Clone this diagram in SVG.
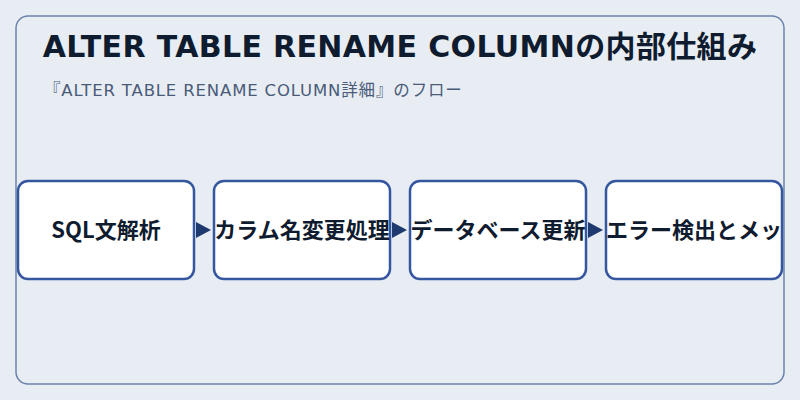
<svg xmlns="http://www.w3.org/2000/svg" width="800" height="400" viewBox="0 0 800 400">
<defs>
<style>
.title{font-family:"DejaVu Sans","Noto Sans CJK JP",sans-serif;font-weight:700;font-size:30px;letter-spacing:0.35px;fill:#0f1b2e}
.sub{font-family:"DejaVu Sans","Noto Sans CJK JP",sans-serif;font-size:16.5px;letter-spacing:0.85px;fill:#4a5b7a}
.box{fill:#ffffff;stroke:#3557a0;stroke-width:2.5}
.lbl{font-family:"Noto Sans CJK JP","Noto Sans",sans-serif;font-weight:700;font-size:22px;fill:#0f1b2e;text-anchor:middle}
</style>
</defs>
<rect width="800" height="400" fill="#e8edf3"/>
<rect x="16" y="16" width="768" height="368" rx="12" fill="#e8edf3" stroke="#6b82ad" stroke-width="1.5"/>
<text class="title" x="400" y="57" text-anchor="middle">ALTER TABLE RENAME COLUMNの内部仕組み</text>
<text class="sub" x="44" y="96">『ALTER TABLE RENAME COLUMN詳細』のフロー</text>
<g id="connectors">
<polygon points="196,222 211,230 196,238" fill="#1e3a6e"/>
<polygon points="392,222 407,230 392,238" fill="#1e3a6e"/>
<polygon points="588,222 603,230 588,238" fill="#1e3a6e"/>
</g>
<g id="node1"><rect class="box" x="18" y="181" width="176" height="98" rx="10"/><text class="lbl" x="106" y="238">SQL文解析</text></g>
<g id="node2"><rect class="box" x="214" y="181" width="176" height="98" rx="10"/><text class="lbl" x="302" y="238">カラム名変更処理</text></g>
<g id="node3"><rect class="box" x="410" y="181" width="176" height="98" rx="10"/><text class="lbl" x="498" y="238">データベース更新</text></g>
<g id="node4"><rect class="box" x="606" y="181" width="176" height="98" rx="10"/><text class="lbl" x="694" y="238">エラー検出とメッ</text></g>
</svg>
